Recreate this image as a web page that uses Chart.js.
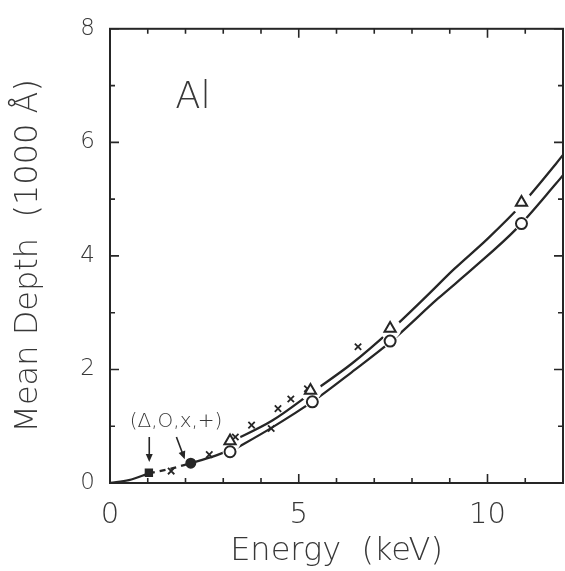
<!DOCTYPE html>
<html lang="en">
<head>
<meta charset="UTF-8">
<title>Mean Depth - Al</title>
<script src="https://cdn.jsdelivr.net/npm/chart.js@4.4.1/dist/chart.umd.min.js"></script>
<style>
  html, body { margin: 0; padding: 0; background: #fff; overflow: hidden; }
</style>
</head>
<body>
<canvas id="grafico" width="574" height="571"></canvas>
<script>
// curve readings (energy in keV, depth in 1000 A)
const lowE = [0, 0.5, 1.03];
const lowD = [0, 0.05, 0.17];
const dashE = [1.03, 1.6, 2.14];
const dashD = [0.17, 0.25, 0.35];
const midE = [2.14, 2.7, 3.18];
const midD = [0.35, 0.46, 0.58];
const upperE = [3.18, 4.3, 5.4, 6.4, 7.42, 8.4, 9.12, 10.0, 10.9, 11.81, 12];
const upperD = [0.72, 1.1, 1.62, 2.1, 2.68, 3.3, 3.77, 4.3, 4.9, 5.62, 5.78];
const lowerE = [3.18, 4.3, 5.4, 6.4, 7.42, 8.69, 9.6, 10.77, 11.81, 12];
const lowerD = [0.55, 0.98, 1.45, 1.95, 2.48, 3.25, 3.77, 4.48, 5.27, 5.42];

// symbols
const triE = [3.18, 5.31, 7.42, 10.9];
const triD = [0.74, 1.63, 2.72, 4.94];
const circE = [3.18, 5.36, 7.42, 10.9];
const circD = [0.55, 1.43, 2.50, 4.57];
const crossE = [1.62, 2.63, 3.32, 3.75, 4.27, 4.45, 4.79, 5.23, 6.57];
const crossD = [0.21, 0.50, 0.81, 1.02, 0.96, 1.31, 1.48, 1.66, 2.40];
const fillE = [1.03, 2.14];
const fillD = [0.18, 0.35];

// axes
const xTickLabels = [0, 5, 10];
const xMinor = [1, 2, 3, 4, 6, 7, 8, 9, 11];
const yTickLabels = [0, 2, 4, 6, 8];
const yMinor = [1, 3, 5, 7];

const tinta = '#262626';
const texto = '#383838';
const fonte = "'DejaVu Sans', sans-serif";

function pares(xs, ys) {
    return xs.map((v, i) => ({ x: v, y: ys[i] }));
}

function linha(xs, ys, extra) {
    return Object.assign({
        type: 'line',
        data: pares(xs, ys),
        borderColor: tinta,
        borderWidth: 2.3,
        pointRadius: 0,
        cubicInterpolationMode: 'monotone',
        order: 3
    }, extra || {});
}

function simbolos(xs, ys, extra) {
    return Object.assign({
        type: 'scatter',
        data: pares(xs, ys),
        showLine: false,
        pointBorderColor: tinta,
        pointBackgroundColor: '#fff',
        pointBorderWidth: 2,
        order: 0
    }, extra || {});
}

// white discs that open the gaps in the curves around the open symbols
function halo(xs, ys, r) {
    return {
        type: 'scatter', data: pares(xs, ys), showLine: false,
        pointRadius: r, pointBorderWidth: 0,
        pointBackgroundColor: '#fff', pointBorderColor: '#fff', order: 1
    };
}

// frame with inward ticks on all four sides
const moldura = {
    id: 'moldura',
    afterDatasetsDraw(chart) {
        const { ctx, chartArea: a, scales: { x, y } } = chart;
        ctx.save();
        ctx.strokeStyle = tinta;
        ctx.lineWidth = 2;
        ctx.strokeRect(a.left, a.top, a.right - a.left, a.bottom - a.top);
        ctx.lineWidth = 1.6;
        ctx.beginPath();
        const xs = xTickLabels.map(v => [v, 9]).concat(xMinor.map(v => [v, 5]));
        xs.forEach(([v, len]) => {
            const px = x.getPixelForValue(v);
            ctx.moveTo(px, a.bottom); ctx.lineTo(px, a.bottom - len);
            ctx.moveTo(px, a.top); ctx.lineTo(px, a.top + len);
        });
        const ys = yTickLabels.map(v => [v, 9]).concat(yMinor.map(v => [v, 5]));
        ys.forEach(([v, len]) => {
            const py = y.getPixelForValue(v);
            ctx.moveTo(a.left, py); ctx.lineTo(a.left + len, py);
            ctx.moveTo(a.right, py); ctx.lineTo(a.right - len, py);
        });
        ctx.stroke();
        ctx.restore();
    }
};

// labels and arrows placed in data coordinates
const rotuloAl = { x: 1.73, y: 6.61, texto: 'Al' };
const rotuloSimb = { x: 1.75, y: 0.98, texto: '(\u0394,O,x,+)' };
const setas = [
    { de: [1.04, 0.81], para: [1.04, 0.37] },
    { de: [1.76, 0.81], para: [1.98, 0.42] }
];

const anotacoes = {
    id: 'anotacoes',
    afterDraw(chart) {
        const { ctx, scales: { x, y } } = chart;
        ctx.save();
        ctx.fillStyle = texto;
        ctx.font = "200 37px " + fonte;
        ctx.textAlign = 'left';
        ctx.textBaseline = 'alphabetic';
        ctx.fillText(rotuloAl.texto, x.getPixelForValue(rotuloAl.x), y.getPixelForValue(rotuloAl.y));
        ctx.font = "200 20px " + fonte;
        ctx.textAlign = 'center';
        ctx.fillText(rotuloSimb.texto, x.getPixelForValue(rotuloSimb.x), y.getPixelForValue(rotuloSimb.y));

        ctx.strokeStyle = tinta;
        ctx.fillStyle = tinta;
        ctx.lineWidth = 1.6;
        setas.forEach(s => {
            const x0 = x.getPixelForValue(s.de[0]), y0 = y.getPixelForValue(s.de[1]);
            const x1 = x.getPixelForValue(s.para[0]), y1 = y.getPixelForValue(s.para[1]);
            const ang = Math.atan2(y1 - y0, x1 - x0);
            ctx.beginPath();
            ctx.moveTo(x0, y0);
            ctx.lineTo(x1 - 5 * Math.cos(ang), y1 - 5 * Math.sin(ang));
            ctx.stroke();
            ctx.beginPath();
            ctx.moveTo(x1, y1);
            ctx.lineTo(x1 - 8 * Math.cos(ang) + 3.5 * Math.sin(ang), y1 - 8 * Math.sin(ang) - 3.5 * Math.cos(ang));
            ctx.lineTo(x1 - 8 * Math.cos(ang) - 3.5 * Math.sin(ang), y1 - 8 * Math.sin(ang) + 3.5 * Math.cos(ang));
            ctx.closePath();
            ctx.fill();
        });
        ctx.restore();
    }
};

new Chart(document.getElementById('grafico'), {
    data: {
        datasets: [
            linha(lowE, lowD),
            linha(dashE, dashD, { borderDash: [6, 5] }),
            linha(midE, midD),
            linha(upperE, upperD),
            linha(lowerE, lowerD),
            halo(triE, triD, 11),
            halo(circE, circD, 7.5),
            simbolos(triE, triD, { pointStyle: 'triangle', pointRadius: 6.5 }),
            simbolos(circE, circD, { pointStyle: 'circle', pointRadius: 5.5 }),
            simbolos(crossE, crossD, { pointStyle: 'crossRot', pointRadius: 4.5, pointBorderWidth: 1.8 }),
            simbolos(fillE, fillD, { pointStyle: ['rect', 'circle'], pointRadius: 4.5, pointBackgroundColor: tinta })
        ]
    },
    options: {
        responsive: false,
        animation: false,
        devicePixelRatio: 1,
        layout: { padding: { top: 27, right: 1, left: 0, bottom: 0 } },
        plugins: { legend: { display: false }, tooltip: { enabled: false } },
        scales: {
            x: {
                type: 'linear', min: 0, max: 12,
                grid: { display: false, drawTicks: false },
                border: { display: false },
                afterBuildTicks: s => { s.ticks = xTickLabels.map(v => ({ value: v })); },
                afterFit: s => { s.height = 571 - 483; },
                ticks: { color: texto, padding: 15, font: { family: fonte, size: 29, weight: '200' } },
                title: {
                    display: true, text: 'Energy  (keV)', color: texto,
                    padding: { top: 0, bottom: 0 },
                    font: { family: fonte, size: 32, weight: '200' }
                }
            },
            y: {
                type: 'linear', min: 0, max: 8,
                grid: { display: false, drawTicks: false },
                border: { display: false },
                afterBuildTicks: s => { s.ticks = yTickLabels.map(v => ({ value: v })); },
                afterFit: s => { s.width = 110; },
                ticks: { color: texto, padding: 15, font: { family: fonte, size: 23, weight: '200' } },
                title: {
                    display: true, text: 'Mean Depth  (1000 \u00C5)', color: texto,
                    padding: { top: 9, bottom: 0 },
                    font: { family: fonte, size: 32, weight: '200' }
                }
            }
        }
    },
    plugins: [moldura, anotacoes]
});
</script>
</body>
</html>
